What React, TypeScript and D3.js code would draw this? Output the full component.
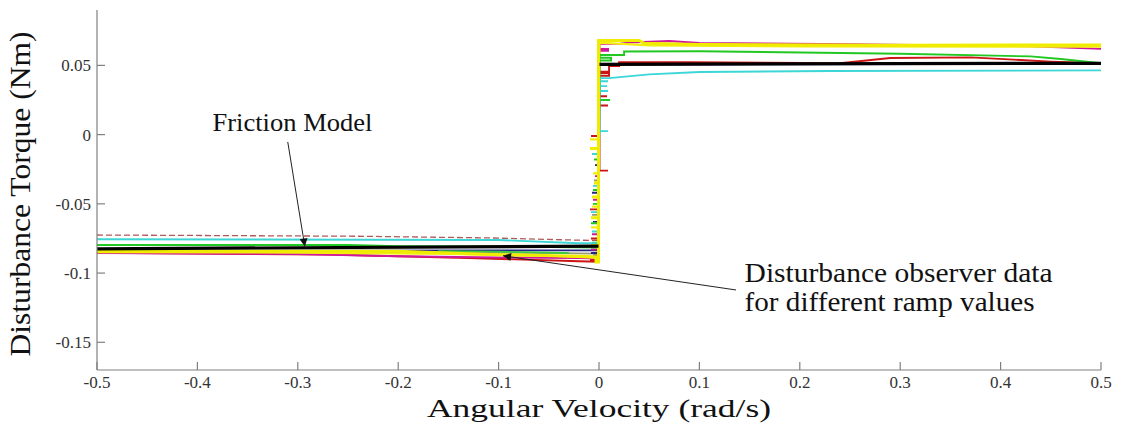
import React from "react";
import * as d3 from "d3";

// ---------- axis ticks ----------
const xTicks = [-0.5, -0.4, -0.3, -0.2, -0.1, 0, 0.1, 0.2, 0.3, 0.4, 0.5];
const xTickLabels = ["-0.5", "-0.4", "-0.3", "-0.2", "-0.1", "0", "0.1", "0.2", "0.3", "0.4", "0.5"];
const yTicks = [0.05, 0, -0.05, -0.1, -0.15];
const yTickLabels = ["0.05", "0", "-0.05", "-0.1", "-0.15"];

// ---------- friction model (two branches) ----------
const frictionNeg: [number, number][] = [[-0.5, -0.0825], [-0.0005, -0.0805]];
const frictionPos: [number, number][] = [[0.0005, 0.0508], [0.5, 0.0515]];

// ---------- disturbance observer data ----------
const olive: [number, number][] = [
  [-0.5, -0.0848], [-0.25, -0.0848], [-0.1, -0.0852], [-0.0005, -0.086],
  [-0.0005, -0.087], [-0.006, -0.087], [-0.0005, -0.087],
  [-0.0005, -0.058], [-0.007, -0.058], [-0.0005, -0.058],
  [-0.0005, -0.033], [-0.005, -0.033], [-0.0005, -0.033],
];
const navy: [number, number][] = [
  [-0.5, -0.0838], [-0.3, -0.0838], [-0.1, -0.0836], [-0.0005, -0.0836],
  [-0.0005, -0.0855], [-0.008, -0.0855], [-0.0005, -0.0855],
  [-0.0005, -0.063], [-0.006, -0.063], [-0.0005, -0.063],
  [-0.0005, -0.042], [-0.007, -0.042], [-0.0005, -0.042],
  [-0.0005, -0.022], [-0.004, -0.022], [-0.0005, -0.022],
  [-0.0005, 0.0505], [0.5, 0.0512],
];
const brownDashed: [number, number][] = [
  [-0.5, -0.0725], [-0.24, -0.0734], [-0.11, -0.0746], [-0.01, -0.0764], [-0.0005, -0.0764],
  [-0.0005, 0.0505], [0.5, 0.0512],
];
const red: [number, number][] = [
  [-0.5, -0.0854], [-0.27, -0.0866], [-0.13, -0.0891], [-0.02, -0.0915], [-0.0005, -0.0918],
  [-0.0005, -0.0905], [-0.009, -0.0905], [-0.0005, -0.0905],
  [-0.0005, -0.075], [-0.008, -0.075], [-0.0005, -0.075],
  [-0.0005, -0.054], [-0.009, -0.054], [-0.0005, -0.054],
  [-0.0005, -0.026], [0.009, -0.026], [0.0005, -0.026],
  [0.0005, -0.001], [-0.008, -0.001], [0.0005, -0.001],
  [0.0005, 0.021], [0.009, 0.021], [0.0005, 0.021],
  [0.0005, 0.0277], [0.008, 0.0277], [0.0005, 0.0277],
  [0.0005, 0.0425], [0.01, 0.0425], [0.01, 0.0445], [0.0005, 0.0445], [0.0005, 0.0455],
  [0.01, 0.0455], [0.01, 0.0495], [0.02, 0.0495], [0.02, 0.0523], [0.09, 0.0523],
  [0.24, 0.0515], [0.29, 0.0553], [0.37, 0.0558], [0.45, 0.0527], [0.5, 0.0515],
];
const magenta: [number, number][] = [
  [-0.5, -0.0855], [-0.3, -0.0862], [-0.2, -0.0878], [-0.1, -0.0887], [-0.02, -0.0891],
  [-0.0005, -0.0895],
  [-0.0005, -0.083], [-0.008, -0.083], [-0.0005, -0.083],
  [-0.0005, -0.072], [-0.007, -0.072], [-0.0005, -0.072],
  [-0.0005, -0.047], [-0.006, -0.047], [-0.0005, -0.047],
  [-0.0005, -0.030], [-0.004, -0.030], [-0.0005, -0.030],
  [0.0005, 0.0605], [0.009, 0.0605], [0.009, 0.0618], [0.0005, 0.0618], [0.0005, 0.0655],
  [0.02, 0.0655], [0.03, 0.0665], [0.07, 0.0676], [0.1, 0.0662], [0.25, 0.0653],
  [0.43, 0.0638], [0.5, 0.0619],
];
const green2: [number, number][] = [
  [-0.16, -0.0842], [-0.1, -0.0845], [-0.03, -0.0855],
];
const yellow2: [number, number][] = [
  [-0.5, -0.0848], [-0.3, -0.0852], [-0.15, -0.0862], [-0.05, -0.0875], [-0.0005, -0.089],
  [-0.0005, -0.081], [-0.006, -0.081], [-0.0005, -0.081],
  [-0.0005, -0.067], [-0.008, -0.067], [-0.0005, -0.067],
  [-0.0005, -0.052], [-0.007, -0.052], [-0.0005, -0.052],
  [-0.0005, -0.028], [-0.006, -0.028], [-0.0005, -0.028],
  [-0.0005, -0.0035], [-0.009, -0.0035], [-0.0005, -0.0035],
  [0.0005, 0.0665], [0.05, 0.0645], [0.2, 0.0637], [0.5, 0.0635],
];
const green: [number, number][] = [
  [-0.5, -0.0797], [-0.25, -0.0797], [-0.2, -0.0805], [-0.05, -0.0812], [-0.0005, -0.0815],
  [-0.0005, -0.078], [-0.007, -0.078], [-0.0005, -0.078],
  [-0.0005, -0.064], [-0.008, -0.064], [-0.0005, -0.064],
  [-0.0005, -0.050], [-0.006, -0.050], [-0.0005, -0.050],
  [-0.0005, -0.040], [-0.006, -0.040], [-0.0005, -0.040],
  [-0.0005, -0.018], [-0.005, -0.018], [-0.0005, -0.018],
  [0.0005, 0.025], [0.011, 0.025], [0.0005, 0.025], [0.0005, 0.0535],
  [0.012, 0.0535], [0.012, 0.0555], [0.0005, 0.0555], [0.0005, 0.0575], [0.025, 0.0575],
  [0.025, 0.06], [0.1, 0.0602], [0.3, 0.0584], [0.43, 0.0565], [0.46, 0.0546], [0.5, 0.0515],
];
const cyan: [number, number][] = [
  [-0.5, -0.0756], [-0.1, -0.0761], [-0.02, -0.0785], [-0.0005, -0.0785],
  [-0.0005, -0.070], [-0.007, -0.070], [-0.0005, -0.070],
  [-0.0005, -0.056], [-0.008, -0.056], [-0.0005, -0.056],
  [-0.0005, -0.037], [-0.006, -0.037], [-0.0005, -0.037],
  [-0.0005, -0.014], [-0.007, -0.014], [-0.0005, -0.014],
  [0.0005, 0.0025], [0.009, 0.0025], [0.0005, 0.0025], [0.0005, 0.0315], [0.009, 0.0315],
  [0.0005, 0.0315], [0.0005, 0.035], [0.008, 0.035], [0.0005, 0.035], [0.0005, 0.0385],
  [0.009, 0.0385], [0.0005, 0.0385], [0.0005, 0.0408], [0.01, 0.0408], [0.05, 0.0435],
  [0.1, 0.0452], [0.23, 0.0459], [0.5, 0.0464],
];
const yellow: [number, number][] = [
  [-0.5, -0.0842], [-0.2, -0.0843], [-0.1, -0.0867], [-0.01, -0.088], [-0.003, -0.0885],
  [-0.003, -0.092], [-0.0005, -0.092],
  [-0.0005, -0.080], [-0.008, -0.080], [-0.0005, -0.080],
  [-0.0005, -0.060], [-0.008, -0.060], [-0.0005, -0.060],
  [-0.0005, -0.045], [-0.007, -0.045], [-0.0005, -0.045],
  [-0.0005, -0.035], [-0.005, -0.035], [-0.0005, -0.035],
  [-0.0005, -0.010], [-0.009, -0.010], [-0.0005, -0.010],
  [-0.0005, 0.068], [0.04, 0.068], [0.045, 0.066], [0.1, 0.065],
  [0.3, 0.0645], [0.5, 0.0648],
];

const observerSeries = [olive, navy, brownDashed, red, magenta, green2, yellow2, green, cyan, yellow];
const observerStyles = [
  { color: "#9a9a6e", width: 1.8, dash: "" },
  { color: "#24248c", width: 1.8, dash: "" },
  { color: "#b05a5a", width: 1.3, dash: "6,3" },
  { color: "#cc1414", width: 1.9, dash: "" },
  { color: "#d0189c", width: 1.9, dash: "" },
  { color: "#3ccc3c", width: 1.8, dash: "" },
  { color: "#f2ee10", width: 2.2, dash: "" },
  { color: "#22c822", width: 1.9, dash: "" },
  { color: "#3cd6d6", width: 1.9, dash: "" },
  { color: "#f0ec00", width: 3, dash: "" },
];

// ---------- annotations (data coordinates) ----------
const frictionNote = { text: "Friction Model", x: -0.385, y: 0.0027, from: [-0.31, -0.0053], to: [-0.293, -0.0808] };
const observerNote = {
  lines: ["Disturbance observer data", "for different ramp values"],
  x: 0.145, y: [-0.1063, -0.1272], from: [0.1365, -0.1122], to: [-0.0956, -0.0875],
};

const W = 1121;
const H = 424;
const FONT = "'Liberation Serif', 'Times New Roman', Times, serif";

export default function App() {
  const x = d3.scaleLinear().domain([-0.5, 0.5]).range([97, 1101]);
  const y = d3.scaleLinear().domain([-0.17, 0.09]).range([370, 10]);
  const line = d3.line<[number, number]>().x((d) => x(d[0])).y((d) => y(d[1]));
  const [x0, x1] = x.range();
  const [yb, yt] = y.range();

  return (
    <svg width={W} height={H} style={{ position: "absolute", left: 0, top: 0, background: "#fff" }}
      fontFamily={FONT}>
      <defs>
        <marker id="ah" viewBox="0 0 10 10" refX="10" refY="5" markerWidth="10" markerHeight="8"
          markerUnits="userSpaceOnUse" orient="auto">
          <path d="M0,0 L10,5 L0,10 z" fill="#111" />
        </marker>
      </defs>
      <rect width={W} height={H} fill="#fff" />

      {/* data */}
      {observerSeries.map((s, i) => (
        <path key={i} d={line(s) || ""} fill="none" stroke={observerStyles[i].color}
          strokeWidth={observerStyles[i].width} strokeDasharray={observerStyles[i].dash || undefined}
          strokeLinejoin="miter" />
      ))}
      <path d={line(frictionNeg) || ""} fill="none" stroke="#000" strokeWidth={3.2} />
      <path d={line(frictionPos) || ""} fill="none" stroke="#000" strokeWidth={3.2} />

      {/* axes */}
      <line x1={x0} x2={x0} y1={yt} y2={yb} stroke="#808080" strokeWidth={1.2} />
      <line x1={x0} x2={x1} y1={yb} y2={yb} stroke="#808080" strokeWidth={1.2} />
      {yTicks.map((t, i) => (
        <g key={"yt" + i}>
          <line x1={x0} x2={x0 + 8} y1={y(t)} y2={y(t)} stroke="#808080" strokeWidth={1.2} />
          <text x={x0 - 6} y={y(t)} dy="0.35em" textAnchor="end" fontSize={17} fill="#333">
            {yTickLabels[i]}
          </text>
        </g>
      ))}
      {xTicks.map((t, i) => (
        <g key={"xt" + i}>
          <line x1={x(t)} x2={x(t)} y1={yb} y2={yb - 8} stroke="#808080" strokeWidth={1.2} />
          <text x={x(t)} y={yb + 18} textAnchor="middle" fontSize={17} fill="#333">
            {xTickLabels[i]}
          </text>
        </g>
      ))}

      {/* axis titles */}
      <text x={x(0)} y={417} textAnchor="middle" fontSize={26} fill="#111"
        textLength={344} lengthAdjust="spacingAndGlyphs">
        Angular Velocity (rad/s)
      </text>
      <text transform={`translate(30, 194) rotate(-90)`} textAnchor="middle"
        fontSize={30} fill="#111" textLength={325} lengthAdjust="spacingAndGlyphs">
        Disturbance Torque (Nm)
      </text>

      {/* annotations */}
      <text x={x(frictionNote.x)} y={y(frictionNote.y)} fontSize={26} fill="#111"
        textLength={160} lengthAdjust="spacingAndGlyphs">
        {frictionNote.text}
      </text>
      <line x1={x(frictionNote.from[0])} y1={y(frictionNote.from[1])} x2={x(frictionNote.to[0])}
        y2={y(frictionNote.to[1])} stroke="#222" strokeWidth={1} markerEnd="url(#ah)" />
      {observerNote.lines.map((l, i) => (
        <text key={i} x={x(observerNote.x)} y={y(observerNote.y[i])} fontSize={27} fill="#111"
          textLength={i === 0 ? 308 : 290} lengthAdjust="spacingAndGlyphs">
          {l}
        </text>
      ))}
      <line x1={x(observerNote.from[0])} y1={y(observerNote.from[1])} x2={x(observerNote.to[0])}
        y2={y(observerNote.to[1])} stroke="#222" strokeWidth={1} markerEnd="url(#ah)" />
    </svg>
  );
}
